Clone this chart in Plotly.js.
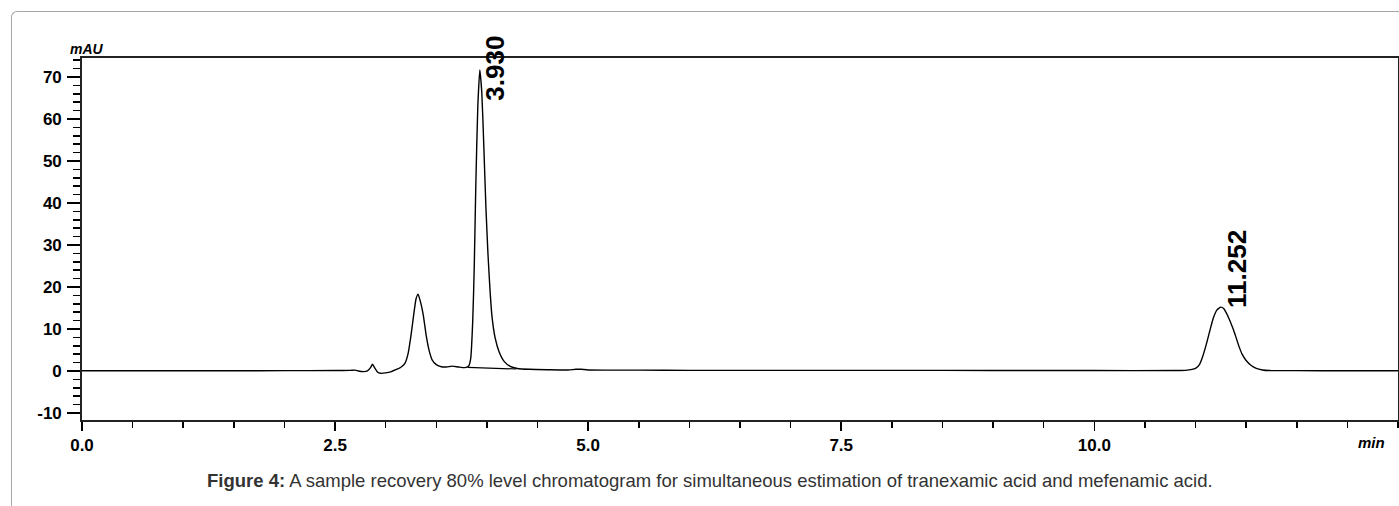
<!DOCTYPE html>
<html>
<head>
<meta charset="utf-8">
<script src="https://cdn.plot.ly/plotly-3.0.1.min.js"></script>
<style>
  html, body { margin:0; padding:0; background:#fff; }
  #wrap { position:relative; width:1399px; height:506px; overflow:hidden; }
  #chart { position:absolute; left:0; top:0; width:1399px; height:506px; }
  #frame { position:absolute; left:11px; top:11px; width:1500px; height:600px;
           border-top:1.5px solid #a6a6a6; border-left:1.5px solid #a6a6a6;
           border-top-left-radius:6px; pointer-events:none; }
</style>
</head>
<body>
<div id="wrap">
  <div id="chart"></div>
  <div id="frame"></div>
</div>
<script>
// Retention time (min) and absorbance (mAU)
const timeMin = [
  0.0, 0.5, 1.0, 1.5, 2.0, 2.5, 2.65, 2.7, 2.73, 2.78, 2.82, 2.85, 2.87, 2.89, 2.92, 2.95,
  3.0, 3.05, 3.1, 3.15, 3.19, 3.22, 3.25, 3.28, 3.30, 3.32, 3.34, 3.37, 3.40, 3.43, 3.46,
  3.5, 3.55, 3.6, 3.66, 3.72, 3.78, 3.82, 3.84, 3.86, 3.875, 3.89, 3.91, 3.93, 3.95, 3.97,
  3.99, 4.01, 4.03, 4.05, 4.08, 4.12, 4.17, 4.23, 4.3, 4.42, 4.6, 4.8, 4.88, 4.93, 5.0,
  5.5, 6.0, 7.0, 8.0, 9.0, 10.0, 10.8, 10.9, 11.0, 11.04, 11.07, 11.1, 11.135, 11.16, 11.18,
  11.21, 11.25, 11.28, 11.30, 11.33, 11.365, 11.40, 11.43, 11.46, 11.50, 11.55, 11.60,
  11.66, 11.73, 12.0, 12.5, 13.0
];
const signalMAU = [
  0.05, 0.05, 0.05, 0.05, 0.08, 0.1, 0.15, 0.2, 0.0, -0.15, 0.0, 0.8, 1.6, 0.8, -0.3, -0.55,
  -0.45, -0.2, 0.3, 0.9, 1.8, 4.0, 8.5, 14.0, 17.2, 18.3, 16.8, 13.5, 8.5, 4.8, 2.6,
  1.5, 1.0, 0.95, 1.15, 0.95, 0.8, 1.2, 3.0, 12.0, 25.0, 44.0, 63.0, 71.7, 66.0, 53.0,
  39.0, 28.0, 19.5, 13.0, 8.0, 4.6, 2.3, 1.1, 0.6, 0.4, 0.3, 0.25, 0.4, 0.4, 0.25,
  0.2, 0.15, 0.15, 0.15, 0.12, 0.1, 0.1, 0.15, 0.6, 1.6, 3.4, 5.8, 9.0, 11.3, 12.9,
  14.5, 15.2, 14.8, 14.0, 12.5, 10.4, 8.0, 5.8, 4.0, 2.5, 1.3, 0.6,
  0.25, 0.1, 0.08, 0.05, 0.05
];
// Integration baseline drawn under the 3.930 peak
const baseTime = [3.81, 4.29];
const baseMAU = [0.87, 0.47];
// Peak labels
const peakTimes = [3.93, 11.25];
const peakHeights = [71.7, 15.2];
const peakLabels = ["3.930", "11.252"];
// Axis ticks
const xTickVals = [0, 2.5, 5.0, 7.5, 10.0];
const xTickText = ["0.0", "2.5", "5.0", "7.5", "10.0"];
const yTickVals = [-10, 0, 10, 20, 30, 40, 50, 60, 70];
const yTickText = ["-10", "0", "10", "20", "30", "40", "50", "60", "70"];

const FONT = "Arial, 'Liberation Sans', sans-serif";

const traces = [
  { x: timeMin, y: signalMAU, type: 'scatter', mode: 'lines',
    line: { color: '#000', width: 1.4, shape: 'spline', smoothing: 0.5 },
    hoverinfo: 'skip', showlegend: false },
  { x: baseTime, y: baseMAU, type: 'scatter', mode: 'lines',
    line: { color: '#000', width: 1.2 }, hoverinfo: 'skip', showlegend: false }
];

const annotations = [
  { x: peakTimes[0], y: peakHeights[0], xref: 'x', yref: 'y', text: '<b>' + peakLabels[0] + '</b>',
    textangle: -90, showarrow: false, xanchor: 'left', yanchor: 'middle', xshift: -2, yshift: 2,
    font: { family: FONT, size: 26, color: '#000' } },
  { x: peakTimes[1], y: peakHeights[1], xref: 'x', yref: 'y', text: '<b>' + peakLabels[1] + '</b>',
    textangle: -90, showarrow: false, xanchor: 'left', yanchor: 'bottom', xshift: -1, yshift: -3,
    font: { family: FONT, size: 26, color: '#000' } },
  { x: 0.004, y: 1.0, xref: 'paper', yref: 'paper', text: '<b><i>mAU</i></b>',
    showarrow: false, xanchor: 'center', yanchor: 'bottom', yshift: -1,
    font: { family: FONT, size: 14, color: '#000' } },
  { x: 0.980, y: 0, xref: 'paper', yref: 'paper', text: '<b><i>min</i></b>',
    showarrow: false, xanchor: 'center', yanchor: 'top', yshift: -12,
    font: { family: FONT, size: 15, color: '#000' } },
  { x: 0.477, y: 0, xref: 'paper', yref: 'paper',
    text: '<b>Figure 4:</b> A sample recovery 80% level chromatogram for simultaneous estimation of tranexamic acid and mefenamic acid.',
    showarrow: false, xanchor: 'center', yanchor: 'middle', yshift: -60,
    font: { family: FONT, size: 18.5, color: '#333' } }
];

const layout = {
  width: 1399, height: 506,
  margin: { l: 82, r: 1, t: 58, b: 86, pad: 0 },
  paper_bgcolor: 'rgba(0,0,0,0)', plot_bgcolor: '#fff',
  showlegend: false,
  font: { family: FONT, color: '#000' },
  xaxis: {
    range: [0, 13], tickvals: xTickVals, ticktext: xTickText,
    ticks: 'outside', ticklen: 9, tickwidth: 1.5, tickcolor: '#000',
    minor: { dtick: 0.5, tick0: 0, ticks: 'outside', ticklen: 6, tickwidth: 1.5, tickcolor: '#000', showgrid: false },
    showline: true, linecolor: '#222', linewidth: 1.8, mirror: true,
    showgrid: false, zeroline: false,
    tickfont: { family: FONT, size: 17, color: '#000', weight: 'bold' }
  },
  yaxis: {
    range: [-11.67, 74.52], tickvals: yTickVals, ticktext: yTickText,
    ticks: 'outside', ticklen: 13, tickwidth: 1.5, tickcolor: '#000',
    minor: { dtick: 2, tick0: 0, ticks: 'outside', ticklen: 7, tickwidth: 1.5, tickcolor: '#000', showgrid: false },
    showline: true, linecolor: '#222', linewidth: 1.8, mirror: true,
    showgrid: false, zeroline: false,
    tickfont: { family: FONT, size: 17, color: '#000', weight: 'bold' },
    ticklabelstandoff: 2
  },
  annotations: annotations
};

Plotly.newPlot('chart', traces, layout, { staticPlot: true, displayModeBar: false });
</script>
</body>
</html>
